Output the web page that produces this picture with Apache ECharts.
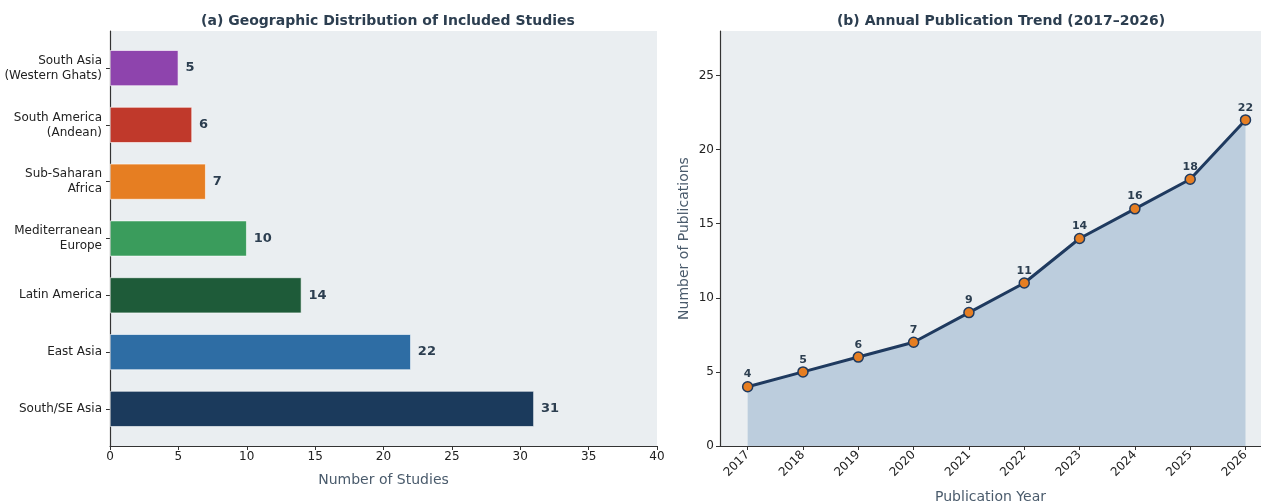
<!DOCTYPE html>
<html>
<head>
<meta charset="utf-8">
<script src="https://cdn.jsdelivr.net/npm/echarts@6/dist/echarts.min.js"></script>
<style>
  html, body { margin: 0; padding: 0; background: #ffffff; }
  #chart { width: 1261px; height: 503px; }
</style>
</head>
<body>
<div id="chart"></div>
<script>
// Panel (a): studies per region, listed bottom-to-top
const regions = [
  'South/SE Asia',
  'East Asia',
  'Latin America',
  'Mediterranean\nEurope',
  'Sub-Saharan\nAfrica',
  'South America\n(Andean)',
  'South Asia\n(Western Ghats)'
];
const studyCounts = [31, 22, 14, 10, 7, 6, 5];
const regionColors = ['#1b3a5c', '#2e6da4', '#1e5b39', '#3a9c5c', '#e67e22', '#c0392b', '#8e44ad'];

// Panel (b): publications per year
const years = [2017, 2018, 2019, 2020, 2021, 2022, 2023, 2024, 2025, 2026];
const publications = [4, 5, 6, 7, 9, 11, 14, 16, 18, 22];
const pubTicks = [0, 5, 10, 15, 20, 25];

const FONT = 'DejaVu Sans';
const INK = '#2c3e50';
const AXIS = '#333333';
const PANEL_BG = '#eaeef1';

const chart = echarts.init(document.getElementById('chart'), null, { renderer: 'canvas' });

const tickLabel = { fontFamily: FONT, fontSize: 12, color: '#222222' };

chart.setOption({
  backgroundColor: '#ffffff',
  animation: false,
  title: [
    {
      text: '(a) Geographic Distribution of Included Studies',
      left: 383, top: 9, textAlign: 'center',
      textStyle: { fontFamily: FONT, fontSize: 14, fontWeight: 'bold', color: INK }
    },
    {
      text: '(b) Annual Publication Trend (2017\u20132026)',
      left: 996, top: 9, textAlign: 'center',
      textStyle: { fontFamily: FONT, fontSize: 14, fontWeight: 'bold', color: INK }
    }
  ],
  grid: [
    // frame of panel (a)
    { left: 110, top: 31, width: 547, height: 415, show: true, backgroundColor: PANEL_BG, borderWidth: 0, outerBoundsMode: 'none' },
    // bar area of panel (a), inset like matplotlib's margins
    { left: 110, top: 39.7, width: 547, height: 397.6, outerBoundsMode: 'none' },
    // panel (b); its right part runs past the page edge
    { left: 720, top: 31, right: 0, height: 415, show: true, backgroundColor: PANEL_BG, borderWidth: 0, outerBoundsMode: 'none' }
  ],
  xAxis: [
    {
      gridIndex: 0, type: 'value', min: 0, max: 40, interval: 5,
      name: 'Number of Studies', nameLocation: 'middle', nameGap: 27,
      nameTextStyle: { fontFamily: FONT, fontSize: 14, color: '#4a5b6c' },
      axisLine: { show: true, onZero: false, lineStyle: { color: AXIS, width: 1.2 } },
      axisTick: { show: true, length: 4, lineStyle: { color: AXIS } },
      axisLabel: Object.assign({ margin: 5 }, tickLabel),
      splitLine: { show: false }
    },
    {
      gridIndex: 1, type: 'value', min: 0, max: 40, show: false
    },
    {
      // half-year padding on the left; the page cuts the panel at ~2026.28
      gridIndex: 2, type: 'value', min: 2016.5, max: 2026.28,
      name: 'Publication Year', nameLocation: 'middle', nameGap: 44,
      nameTextStyle: { fontFamily: FONT, fontSize: 14, color: '#4a5b6c' },
      axisLine: { show: true, onZero: false, lineStyle: { color: AXIS, width: 1.2 } },
      axisTick: { show: true, length: 4, customValues: years, lineStyle: { color: AXIS } },
      axisLabel: Object.assign({ rotate: 45, margin: 7, customValues: years, formatter: v => String(v) }, tickLabel),
      splitLine: { show: false }
    }
  ],
  yAxis: [
    {
      gridIndex: 0, type: 'value', min: 0, max: 1,
      axisLine: { show: true, onZero: false, lineStyle: { color: AXIS, width: 1.2 } },
      axisTick: { show: false }, axisLabel: { show: false }, splitLine: { show: false }
    },
    {
      gridIndex: 1, type: 'category', data: regions,
      axisLine: { show: false },
      axisTick: { show: true, alignWithLabel: true, length: 4, lineStyle: { color: AXIS } },
      axisLabel: Object.assign({ margin: 8, lineHeight: 15, align: 'right' }, tickLabel),
      splitLine: { show: false }
    },
    {
      gridIndex: 2, type: 'value', min: 0, max: 28,
      name: 'Number of Publications', nameLocation: 'middle', nameGap: 29, nameRotate: 90,
      nameTextStyle: { fontFamily: FONT, fontSize: 14, color: '#4a5b6c' },
      axisLine: { show: true, onZero: false, lineStyle: { color: AXIS, width: 1.2 } },
      axisTick: { show: true, length: 4, customValues: pubTicks, lineStyle: { color: AXIS } },
      axisLabel: Object.assign({ margin: 6, customValues: pubTicks }, tickLabel),
      splitLine: { show: false }
    }
  ],
  series: [
    {
      type: 'bar',
      xAxisIndex: 1, yAxisIndex: 1,
      data: studyCounts.map((v, i) => ({
        value: v,
        itemStyle: { color: regionColors[i], borderColor: '#ffffff', borderWidth: 0.6 }
      })),
      barCategoryGap: '37%',
      label: {
        show: true, position: 'right', distance: 7,
        fontFamily: FONT, fontSize: 13, fontWeight: 'bold', color: INK
      }
    },
    {
      type: 'line',
      xAxisIndex: 2, yAxisIndex: 2,
      data: years.map((y, i) => [y, publications[i]]),
      symbol: 'circle', symbolSize: 10,
      lineStyle: { color: '#1f3a5f', width: 3 },
      itemStyle: { color: '#e67e22', borderColor: '#1f3a5f', borderWidth: 1.5 },
      areaStyle: { color: '#bccddd', opacity: 1 },
      label: {
        show: true, position: 'top', distance: 1,
        fontFamily: FONT, fontSize: 11, fontWeight: 'bold', color: INK
      },
      z: 3
    }
  ]
});
</script>
</body>
</html>
